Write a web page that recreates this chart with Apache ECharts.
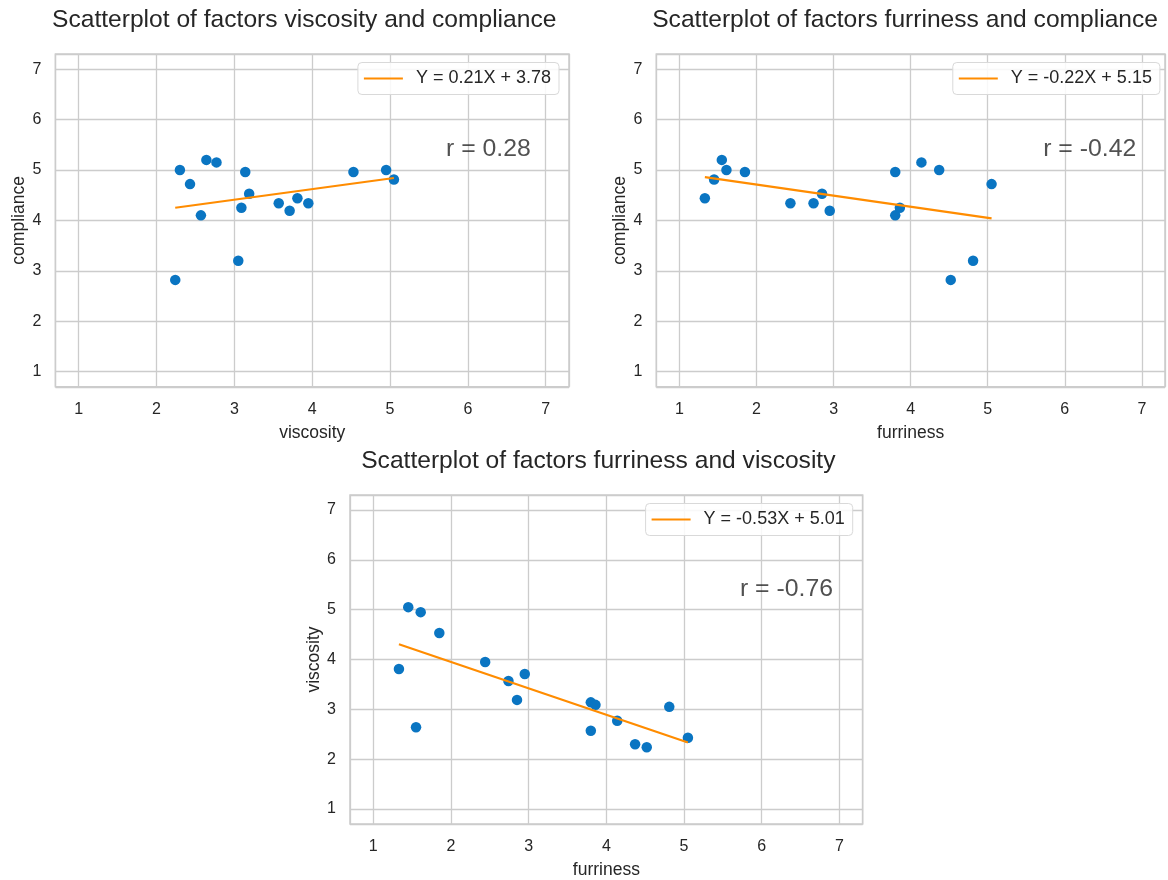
<!DOCTYPE html>
<html>
<head>
<meta charset="utf-8">
<title>Scatterplots of factors</title>
<script src="https://cdn.jsdelivr.net/npm/echarts@6/dist/echarts.min.js"></script>
<style>
  html, body { margin: 0; padding: 0; background: #ffffff; }
  #chart { width: 1168px; height: 880px; }
</style>
</head>
<body>
<div id="chart"></div>
<script>
// Factor scores per respondent
const viscosity  = [2.30, 2.64, 2.77, 2.43, 2.57, 2.24, 3.14, 3.19, 3.09, 3.05, 3.57, 3.71, 3.81, 3.95, 4.53, 4.95, 5.05];
const compliance = [5.00, 5.20, 5.15, 4.72, 4.10, 2.82, 4.96, 4.53, 4.25, 3.20, 4.34, 4.19, 4.44, 4.34, 4.96, 5.00, 4.81];
const furriness  = [4.37, 1.55, 4.14, 5.05, 3.80, 4.52, 3.80, 2.85, 3.86, 4.81, 2.74, 2.95, 1.33, 2.44, 1.85, 1.61, 1.45];

// Panels: [x factor, y factor]
const panelX = ['viscosity', 'furriness', 'furriness'];
const panelY = ['compliance', 'compliance', 'viscosity'];
// Fitted line coefficients and correlation per panel
const slopes = [0.21, -0.22, -0.53];
const intercepts = [3.78, 5.15, 5.01];
const rValues = ['0.28', '-0.42', '-0.76'];

const factors = { viscosity, compliance, furriness };

const FONT = "'Liberation Sans', Arial, Helvetica, sans-serif";
const INK = '#262626';
const GRIDC = '#cccccc';
const DOT = '#0a75c2';
const FIT = '#ff8c00';

// Plot-area boxes (px)
const boxes = [
  { left: 55.4, top: 54, width: 513.6, height: 332.8 },
  { left: 656.3, top: 54, width: 513.6, height: 332.8 },
  { left: 350, top: 495, width: 512.7, height: 332.7 }
];

function fmtCoef(v) { return v.toFixed(2); }
function fitLabel(i) {
  const b = intercepts[i];
  return 'Y = ' + fmtCoef(slopes[i]) + 'X ' + (b < 0 ? '- ' : '+ ') + fmtCoef(Math.abs(b));
}

const grids = [], xAxes = [], yAxes = [], titles = [], legends = [], series = [];

function axisBase(name, isX) {
  return {
    type: 'value',
    gridIndex: 0,
    min: 0.7,
    max: 7.3,
    splitNumber: 6,
    name: name,
    nameLocation: 'middle',
    nameGap: isX ? 37 : 27,
    nameTextStyle: { fontFamily: FONT, fontSize: 17.5, color: INK },
    axisLine: { show: false },
    axisTick: { show: false },
    axisLabel: {
      fontFamily: FONT, fontSize: 16, color: INK, margin: isX ? 14.5 : 14,
      padding: isX ? 0 : [3, 0, 0, 0],
      formatter: v => (Math.abs(v - Math.round(v)) < 1e-9 ? String(Math.round(v)) : '')
    },
    splitLine: { show: true, lineStyle: { color: GRIDC, width: 1.3 } }
  };
}

boxes.forEach((b, i) => {
  grids.push({ left: b.left, top: b.top, width: b.width, height: b.height, show: true,
    borderColor: GRIDC, borderWidth: 1.5, backgroundColor: '#ffffff' });

  const xa = axisBase(panelX[i], true); xa.gridIndex = i; xAxes.push(xa);
  const ya = axisBase(panelY[i], false); ya.gridIndex = i; yAxes.push(ya);

  titles.push({
    text: 'Scatterplot of factors ' + panelX[i] + ' and ' + panelY[i],
    left: b.left + b.width / 2 - 13,
    top: b.top - 51,
    textAlign: 'center',
    textStyle: { fontFamily: FONT, fontSize: 24.6, fontWeight: 'normal', color: INK }
  });

  const xs = factors[panelX[i]];
  const ys = factors[panelY[i]];
  const pts = xs.map((x, k) => [x, ys[k]]);

  series.push({
    type: 'scatter', xAxisIndex: i, yAxisIndex: i,
    data: pts, symbolSize: 10.5,
    itemStyle: { color: DOT, opacity: 1 },
    emphasis: { disabled: true }, z: 2
  });

  const x0 = Math.min(...xs), x1 = Math.max(...xs);
  const name = fitLabel(i);
  series.push({
    type: 'line', name: name, xAxisIndex: i, yAxisIndex: i,
    data: [[x0, slopes[i] * x0 + intercepts[i]], [x1, slopes[i] * x1 + intercepts[i]]],
    showSymbol: false, symbol: 'none', color: FIT,
    lineStyle: { color: FIT, width: 2.2 },
    emphasis: { disabled: true }, z: 3
  });

  // correlation annotation
  series.push({
    type: 'scatter', xAxisIndex: i, yAxisIndex: i,
    data: [[5.72, 5.42]], symbolSize: 0, silent: true,
    itemStyle: { color: 'transparent' },
    label: { show: true, position: 'right', distance: 0, formatter: 'r = ' + rValues[i],
      fontFamily: FONT, fontSize: 24.8, color: INK },
    emphasis: { disabled: true }, z: 4
  });

  legends.push({
    data: [{ name: name, icon: 'rect' }],
    right: 1168 - (b.left + b.width) + 10,
    top: b.top + 8.5,
    orient: 'horizontal',
    backgroundColor: 'rgba(255,255,255,0.85)',
    borderColor: '#d9d9d9',
    borderWidth: 1,
    borderRadius: 4,
    padding: [7, 8, 7, 6],
    itemWidth: 39,
    itemHeight: 2.2,
    selectedMode: false,
    textStyle: { fontFamily: FONT, fontSize: 18, color: INK, padding: [0, 0, 0, 8] }
  });
});

const chart = echarts.init(document.getElementById('chart'), null, { renderer: 'canvas' });
chart.setOption({
  animation: false,
  backgroundColor: '#ffffff',
  title: titles,
  legend: legends,
  grid: grids,
  xAxis: xAxes,
  yAxis: yAxes,
  series: series
});
</script>
</body>
</html>
